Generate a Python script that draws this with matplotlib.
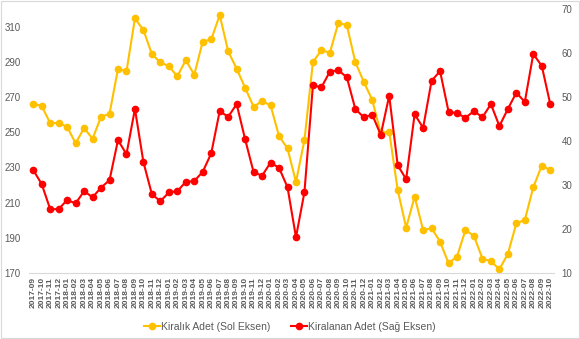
import numpy as np
import pandas as pd
import matplotlib
matplotlib.use('Agg')
import matplotlib.pyplot as plt
from matplotlib.patches import Rectangle

plt.rcParams['font.family'] = ['Liberation Sans', 'DejaVu Sans']

yellow = '#FFC000'
red = '#FF0000'
gray_text = '#595959'
axis_gray = '#D9D9D9'

months = pd.period_range('2017-09', '2022-10', freq='M').strftime('%Y-%m').tolist()

# Kiralik Adet (left axis)
kiralik = [266.2, 264.9, 255.2, 255.2, 253.1, 243.7, 252.4, 246.3, 258.8, 260.5,
           286.1, 284.6, 314.7, 308.1, 294.4, 289.7, 287.6, 281.8, 291.0, 282.7,
           301.6, 302.8, 316.6, 296.1, 286.1, 275.3, 264.5, 267.7, 265.3, 247.8,
           240.8, 221.7, 245.6, 289.9, 296.7, 295.2, 312.2, 310.9, 289.9, 278.7,
           268.3, 249.4, 250.3, 217.2, 195.7, 213.4, 194.4, 195.4, 187.8, 175.5,
           179.3, 194.4, 191.0, 178.1, 176.6, 172.1, 180.8, 198.2, 200.1, 218.7,
           231.0, 228.5]

# Kiralanan Adet (right axis)
kiralanan = [33.4, 30.2, 24.5, 24.5, 26.6, 25.8, 28.6, 27.2, 29.4, 31.1,
             40.2, 37.0, 47.3, 35.2, 27.9, 26.3, 28.3, 28.6, 30.7, 30.9,
             33.0, 37.2, 46.8, 45.5, 48.4, 40.4, 32.9, 32.1, 35.1, 33.9,
             29.5, 18.1, 28.4, 52.7, 52.2, 55.8, 56.1, 54.5, 47.3, 45.4,
             46.0, 41.4, 50.3, 34.5, 31.3, 46.1, 43.0, 53.7, 55.9, 46.7,
             46.3, 45.3, 46.8, 45.4, 48.4, 43.4, 47.3, 51.0, 48.9, 59.8,
             57.1, 48.4]

left_ticks = [170, 190, 210, 230, 250, 270, 290, 310]
right_ticks = [10, 20, 30, 40, 50, 60, 70]

fig = plt.figure(figsize=(5.8, 3.39), dpi=100)
ax = fig.add_axes([0.05, 0.195, 0.906, 0.778])
ax2 = ax.twinx()

x = np.arange(len(months))
l1, = ax.plot(x, kiralik, color=yellow, linewidth=1.5, marker='o', markersize=4.5,
              label='Kiralık Adet (Sol Eksen)')
l2, = ax2.plot(x, kiralanan, color=red, linewidth=1.5, marker='o', markersize=4.5,
               label='Kiralanan Adet (Sağ Eksen)')

ax.set_xlim(-0.5, len(months) - 0.5)
ax.set_ylim(170, 320)
ax2.set_ylim(10, 70)
ax.set_yticks(left_ticks)
ax2.set_yticks(right_ticks)
ax.set_xticks(x)

for a in (ax, ax2):
    for s in a.spines.values():
        s.set_visible(False)
    a.tick_params(length=0, labelsize=7, labelcolor=gray_text)
ax.spines['bottom'].set_visible(True)
ax.spines['bottom'].set_color(axis_gray)
ax.tick_params(axis='y', pad=6)
ax.tick_params(axis='x', pad=3)
ax2.tick_params(axis='y', pad=5)
ax.set_xticklabels(months, rotation=90, fontsize=6, fontweight='bold', color=gray_text)

fig.legend(handles=[l1, l2], loc='center', bbox_to_anchor=(0.5, 0.035), ncol=2,
           frameon=False, fontsize=7.5, handlelength=1.5, handletextpad=0.1,
           columnspacing=2.0, labelcolor=gray_text)

fig.patches.append(Rectangle((0.002, 0.003), 0.996, 0.994, transform=fig.transFigure,
                             fill=False, edgecolor=axis_gray, linewidth=0.8))

fig.savefig('out.png', dpi=100)
